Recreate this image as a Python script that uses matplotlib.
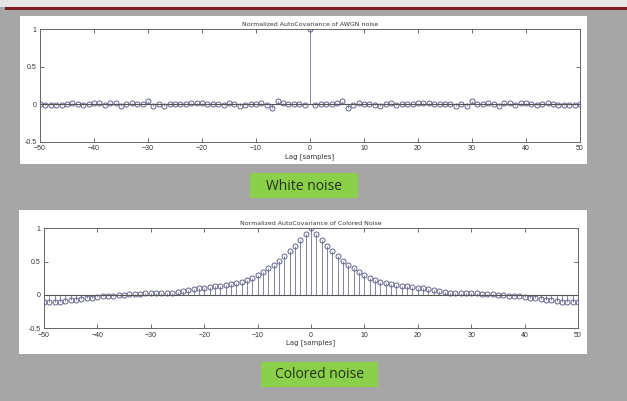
import numpy as np
import matplotlib
matplotlib.use("Agg")
import matplotlib.pyplot as plt
from matplotlib.patches import Rectangle

# lags and one-sided autocovariance values (lag 1..50), mirrored for negative lags
lags = np.arange(-50, 51)

white_pos = [-0.015, 0.0, 0.0, 0.005, 0.02, 0.045, -0.045, -0.005, 0.02, 0.005,
             0.0, -0.005, -0.02, 0.0, 0.02, -0.005, 0.0, 0.0, 0.005, 0.02,
             0.02, 0.01, 0.0, 0.0, 0.0, 0.0, -0.025, 0.005, -0.025, 0.04,
             0.0, 0.005, 0.015, 0.0, -0.02, 0.02, 0.01, -0.005, 0.015, 0.02,
             0.0, -0.015, 0.0, 0.02, 0.0, -0.015, -0.015, -0.005, -0.005, 0.0]

colored_pos = [0.91, 0.82, 0.735, 0.66, 0.58, 0.51, 0.45, 0.40, 0.34, 0.30,
               0.26, 0.225, 0.20, 0.175, 0.16, 0.145, 0.135, 0.13, 0.12, 0.11,
               0.10, 0.085, 0.07, 0.055, 0.045, 0.035, 0.03, 0.03, 0.03, 0.03,
               0.025, 0.02, 0.015, 0.01, 0.0, -0.005, -0.01, -0.015, -0.02, -0.03,
               -0.04, -0.05, -0.06, -0.07, -0.08, -0.09, -0.10, -0.10, -0.10, -0.10]

white = np.array(white_pos[::-1] + [1.0] + white_pos)
colored = np.array(colored_pos[::-1] + [1.0] + colored_pos)

titles = ["Normalized AutoCovariance of AWGN noise",
          "Normalized AutoCovariance of Colored Noise"]
captions = ["White noise", "Colored noise"]

W, H = 627, 401
fig = plt.figure(figsize=(W / 100, H / 100), dpi=100)
fig.patch.set_facecolor("#a6a6a6")


def px_rect(x0, y0, x1, y1):
    # pixel box (top-left origin) -> figure fraction
    return [x0 / W, 1 - y1 / H, (x1 - x0) / W, (y1 - y0) / H]


def box(x0, y0, x1, y1, color):
    l, b, w, h = px_rect(x0, y0, x1, y1)
    fig.patches.append(Rectangle((l, b), w, h, transform=fig.transFigure,
                                 facecolor=color, edgecolor="none", zorder=-10))


# top strip and dark red rule
box(0, 0, W, 7, "#e6e6e6")
box(5, 7, W, 10, "#7a1f1f")

# white panels behind the plots
box(19.5, 15.7, 587, 164, "white")
box(19, 210, 587, 354, "white")

# green caption boxes
box(250, 173, 358, 198, "#8bcf4a")
box(261, 362, 378, 387, "#8bcf4a")
fig.text(304 / W, 1 - 186 / H, captions[0], ha="center", va="center",
         fontsize=10, color="#1f3314", family="Open Sans")
fig.text(319.5 / W, 1 - 375 / H, captions[1], ha="center", va="center",
         fontsize=10, color="#1f3314", family="Open Sans")

axes_px = [(40, 29.3, 580, 141.7), (44, 228.3, 578, 328.3)]
series = [white, colored]

for (x0, y0, x1, y1), vals, title in zip(axes_px, series, titles):
    ax = fig.add_axes(px_rect(x0, y0, x1, y1))
    ax.set_zorder(5)
    ax.set_facecolor("white")
    markerline, stemlines, baseline = ax.stem(lags, vals)
    plt.setp(stemlines, color="#70709a", linewidth=0.6)
    plt.setp(markerline, marker="o", markersize=3.6, markerfacecolor="none",
             markeredgecolor="#62628f", markeredgewidth=0.7)
    plt.setp(baseline, color="#555555", linewidth=0.8)
    ax.set_xlim(-50, 50)
    ax.set_ylim(-0.5, 1)
    ax.set_xticks(range(-50, 51, 10))
    ax.set_yticks([-0.5, 0, 0.5, 1])
    ax.set_yticklabels(["-0.5", "0", "0.5", "1"])
    ax.tick_params(direction="in", length=3, width=0.6, top=True, right=True,
                   labelsize=5, labelcolor="#333333", color="#555555")
    ax.tick_params(axis="x", pad=2.5)
    ax.tick_params(axis="y", pad=2.5)
    for s in ax.spines.values():
        s.set_color("#666666")
        s.set_linewidth(0.7)
    ax.set_title(title, fontsize=4.5, color="#333333", pad=2.5)
    ax.set_xlabel("Lag [samples]", fontsize=5, color="#333333", labelpad=0.5)
    for lab in ax.get_xticklabels() + ax.get_yticklabels():
        lab.set_family("Liberation Sans")

fig.savefig("out.png", dpi=100, facecolor=fig.get_facecolor())
